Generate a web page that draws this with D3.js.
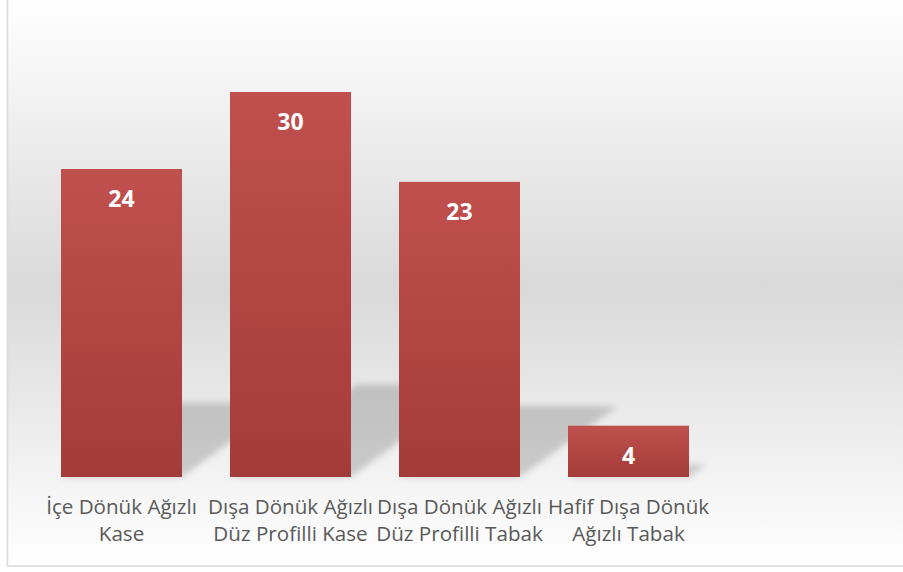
<!DOCTYPE html>
<html>
<head>
<meta charset="utf-8">
<script src="https://cdn.jsdelivr.net/npm/d3@7"></script>
<style>
	body { margin: 0; background: #fff; }
	svg { display: block; }
	.tick text { font-family: "Open Sans", sans-serif; fill: #595959; }
	.value { font-family: "Open Sans", sans-serif; font-weight: bold; fill: #fff; }
</style>
</head>
<body>
<div id="chart"></div>
<script>
// category labels, line break where the original wraps
var categories = [
	"İçe Dönük Ağızlı\nKase",
	"Dışa Dönük Ağızlı\nDüz Profilli Kase",
	"Dışa Dönük Ağızlı\nDüz Profilli Tabak",
	"Hafif Dışa Dönük\nAğızlı Tabak"
];
var values = [24, 30, 23, 4];

var W = 903, H = 572;
var plot = { left : 37, right : 713, top : 92, bottom : 477 };

var svg = d3.select("#chart").append("svg")
			.attr("width", W)
			.attr("height", H);

var defs = svg.append("defs");

// background: white -> gray -> white
var bg = defs.append("linearGradient")
			 .attr("id", "bg")
			 .attr("x1", 0).attr("y1", 0).attr("x2", 0).attr("y2", 1);
bg.append("stop").attr("offset", "0%").attr("stop-color", "#ffffff");
bg.append("stop").attr("offset", "51%").attr("stop-color", "#d9d9d9");
bg.append("stop").attr("offset", "100%").attr("stop-color", "#ffffff");

// bar fill
var bar = defs.append("linearGradient")
			  .attr("id", "bar")
			  .attr("x1", 0).attr("y1", 0).attr("x2", 0).attr("y2", 1);
bar.append("stop").attr("offset", "0%").attr("stop-color", "#c0504d");
bar.append("stop").attr("offset", "100%").attr("stop-color", "#a33c39");

var blur = defs.append("filter")
			   .attr("id", "blur")
			   .attr("x", "-20%").attr("y", "-20%")
			   .attr("width", "140%").attr("height", "140%");
blur.append("feGaussianBlur").attr("stdDeviation", 3);

svg.append("rect")
   .attr("x", 7.5)
   .attr("y", -2)
   .attr("width", W)
   .attr("height", 568)
   .attr("fill", "url(#bg)")
   .attr("stroke", "#d9d9d9")
   .attr("stroke-width", 1.5);

var x = d3.scaleBand()
		  .domain(categories)
		  .range([plot.left, plot.right])
		  .paddingInner(0.284)
		  .paddingOuter(0.142);

var y = d3.scaleLinear()
		  .domain([0, 30])
		  .range([plot.bottom, plot.top]);

// perspective shadows, sheared to the right from the base
var shadows = svg.append("g").attr("filter", "url(#blur)");

shadows.selectAll(".shadow")
	   .data(values)
	   .enter().append("rect")
	   .attr("class", "shadow")
	   .attr("transform", (d, i) => "translate(" + x(categories[i]) + "," + plot.bottom + ") skewX(-54) scale(1,0.24)")
	   .attr("x", 0)
	   .attr("y", (d) => y(d) - plot.bottom)
	   .attr("width", x.bandwidth())
	   .attr("height", (d) => plot.bottom - y(d))
	   .attr("fill", "#000")
	   .attr("fill-opacity", 0.17);

svg.selectAll(".bar")
   .data(values)
   .enter().append("rect")
   .attr("class", "bar")
   .attr("x", (d, i) => x(categories[i]))
   .attr("y", (d) => y(d))
   .attr("width", x.bandwidth())
   .attr("height", (d) => plot.bottom - y(d))
   .attr("fill", "url(#bar)");

svg.selectAll(".value")
   .data(values)
   .enter().append("text")
   .attr("class", "value")
   .attr("x", (d, i) => x(categories[i]) + x.bandwidth() / 2)
   .attr("y", (d) => y(d) + 38)
   .attr("text-anchor", "middle")
   .style("font-size", "23px")
   .text((d) => d);

// category axis, labels only
var axis = svg.append("g")
			  .attr("transform", "translate(0," + plot.bottom + ")")
			  .call(d3.axisBottom(x).tickSize(0).tickFormat(""));

axis.select(".domain").remove();

axis.selectAll(".tick text").remove();

axis.selectAll(".tick")
	.append("text")
	.attr("text-anchor", "middle")
	.style("font-size", "20.6px")
	.each(function(d) {
		var t = d3.select(this);
		d.split("\n").forEach(function(line, k) {
			t.append("tspan")
			 .attr("x", 0)
			 .attr("y", 37 + k * 27)
			 .text(line);
		});
	});
</script>
</body>
</html>
